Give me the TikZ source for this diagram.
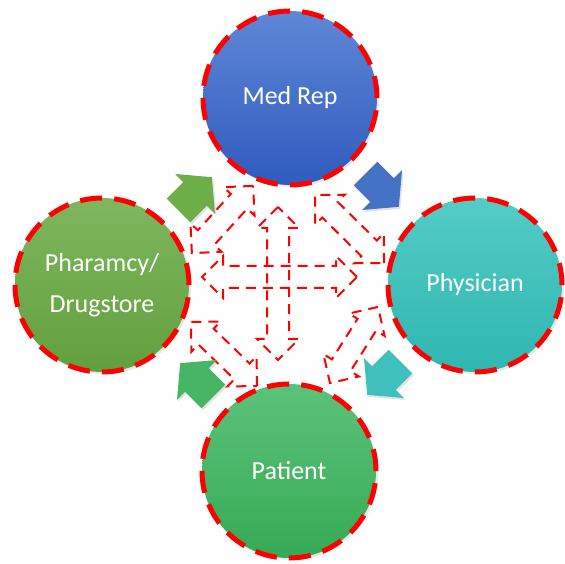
\documentclass[tikz,border=0pt]{standalone}
\usepackage{fontspec}
\setmainfont{Carlito}
\usetikzlibrary{shapes.arrows,shadows}

\definecolor{medtop}{HTML}{5F87D6}
\definecolor{medbot}{HTML}{2F5BBE}
\definecolor{phytop}{HTML}{55CBC6}
\definecolor{phybot}{HTML}{2EB7B0}
\definecolor{pattop}{HTML}{5CC27A}
\definecolor{patbot}{HTML}{36AA55}
\definecolor{phatop}{HTML}{7FB65E}
\definecolor{phabot}{HTML}{62A03E}
\definecolor{flowblue}{HTML}{4472C4}
\definecolor{flowteal}{HTML}{40C0BD}
\definecolor{flowgreen}{HTML}{47B566}
\definecolor{flowolive}{HTML}{6EAE48}

\tikzset{
  party/.style={circle, minimum size=174pt, inner sep=0pt, draw=red,
    line width=5pt, dash pattern=on 22pt off 12.16pt, text=white,
    font=\fontsize{26}{41}\selectfont, align=center,
    drop shadow={opacity=0.18, shadow xshift=2pt, shadow yshift=-2pt}},
  flow/.style={single arrow, anchor=tip, minimum height=47pt,
    inner xsep=0pt, inner ysep=16.5pt, single arrow head extend=11.5pt,
    single arrow tip angle=100,
    drop shadow={opacity=0.22, shadow xshift=1.5pt, shadow yshift=-2pt}},
  link/.style={double arrow, inner xsep=0pt, inner ysep=10pt,
    double arrow head extend=10pt, double arrow tip angle=90,
    draw=red, line width=2pt, dash pattern=on 10pt off 7pt},
}

\begin{document}
\begin{tikzpicture}[x=1pt,y=1pt]
\useasboundingbox (0,0) rectangle (564,564);

% dashed links in the middle
\node[link, minimum height=155pt] (across) at (279.5,287) {};
\node[link, minimum height=153pt, rotate=90] (updown) at (278,280.5) {};
\node[link, minimum height=91pt, rotate=47.7] (linkul) at (222.5,344.5) {};
\node[link, minimum height=97pt, rotate=-44.6] (linkur) at (349.5,335) {};
\node[link, minimum height=90pt, rotate=57.7] (linklr) at (354,219) {};
\node[link, minimum height=92pt, rotate=-44.1] (linkll) at (224,210) {};

% the four parties
\node[party, top color=medtop, bottom color=medbot] (medrep) at (290,466) {Med Rep};
\node[party, top color=phytop, bottom color=phybot] (physician) at (475,279) {Physician};
\node[party, top color=pattop, bottom color=patbot] (patient) at (289,93) {Patient};
\node[party, top color=phatop, bottom color=phabot] (pharmacy) at (102,279) {Pharamcy/\\Drugstore};

% block arrows round the circle
\node[flow, fill=flowblue, rotate=-45] (toPhy) at (399,357) {};
\node[flow, fill=flowteal, rotate=-135] (toPat) at (367,169) {};
\node[flow, fill=flowgreen, rotate=135] (toPha) at (180,201) {};
\node[flow, fill=flowolive, rotate=45] (toMed) at (212,387) {};
\end{tikzpicture}
\end{document}
